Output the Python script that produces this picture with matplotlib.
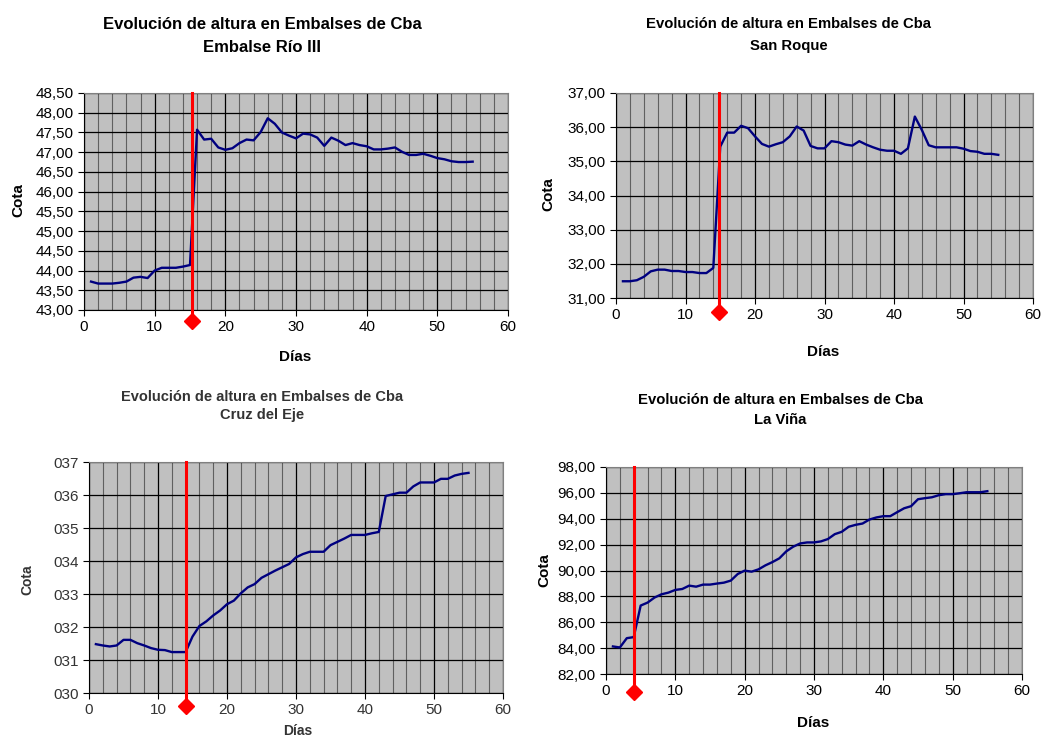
import matplotlib
matplotlib.use("Agg")
import matplotlib.pyplot as plt
from matplotlib.ticker import FuncFormatter, MultipleLocator

plt.rcParams["font.family"] = ["Liberation Sans", "DejaVu Sans"]

W, H = 1043, 739

dias = list(range(1, 56))

rio_iii = [43.72, 43.67, 43.67, 43.67, 43.69, 43.72, 43.82, 43.84, 43.81, 44.00,
           44.07, 44.07, 44.07, 44.10, 44.14, 47.57, 47.32, 47.34, 47.12, 47.06,
           47.10, 47.23, 47.32, 47.30, 47.51, 47.86, 47.72, 47.50, 47.42, 47.35,
           47.47, 47.45, 47.37, 47.16, 47.37, 47.29, 47.18, 47.23, 47.18, 47.15,
           47.07, 47.07, 47.09, 47.12, 47.01, 46.93, 46.93, 46.96, 46.91, 46.85,
           46.82, 46.77, 46.75, 46.75, 46.76]

san_roque = [31.49, 31.49, 31.52, 31.62, 31.78, 31.83, 31.83, 31.79, 31.79, 31.76,
             31.76, 31.73, 31.73, 31.88, 35.43, 35.84, 35.84, 36.04, 35.97, 35.73,
             35.51, 35.43, 35.50, 35.56, 35.73, 36.02, 35.90, 35.45, 35.38, 35.38,
             35.59, 35.56, 35.49, 35.46, 35.59, 35.49, 35.41, 35.34, 35.31, 35.31,
             35.22, 35.38, 36.31, 35.92, 35.47, 35.41, 35.41, 35.41, 35.41, 35.37,
             35.30, 35.28, 35.22, 35.22, 35.19]

cruz_del_eje = [31.48, 31.44, 31.41, 31.44, 31.61, 31.61, 31.51, 31.44, 31.36, 31.31,
                31.30, 31.24, 31.24, 31.24, 31.71, 32.03, 32.17, 32.35, 32.50, 32.69,
                32.80, 33.02, 33.20, 33.30, 33.49, 33.60, 33.71, 33.81, 33.91, 34.11,
                34.21, 34.28, 34.28, 34.28, 34.48, 34.58, 34.68, 34.79, 34.79, 34.79,
                34.84, 34.88, 35.97, 36.02, 36.07, 36.07, 36.26, 36.38, 36.38, 36.38,
                36.49, 36.49, 36.59, 36.64, 36.67]

la_vina = [84.13, 84.05, 84.77, 84.85, 87.29, 87.52, 87.91, 88.16, 88.29, 88.50,
           88.57, 88.83, 88.75, 88.91, 88.91, 88.99, 89.06, 89.22, 89.73, 89.99,
           89.91, 90.09, 90.40, 90.65, 90.94, 91.48, 91.84, 92.09, 92.17, 92.17,
           92.25, 92.43, 92.81, 92.99, 93.38, 93.53, 93.63, 93.94, 94.10, 94.20,
           94.20, 94.51, 94.81, 94.97, 95.51, 95.59, 95.66, 95.82, 95.90, 95.90,
           95.97, 96.05, 96.05, 96.05, 96.13]

nombres = ["Embalse Río III", "San Roque", "Cruz del Eje", "La Viña"]
series = [rio_iii, san_roque, cruz_del_eje, la_vina]
ylims = [(43.0, 48.5), (31.0, 37.0), (30.0, 37.0), (82.0, 98.0)]
ysteps = [0.5, 1.0, 1.0, 2.0]
marca_dia = [15.3, 14.8, 14.0, 4.1]

# pixel boxes: left, right, top, bottom
boxes = [(84, 508, 93, 310), (616, 1033, 93, 298),
         (89, 503, 462, 693), (606, 1022, 467, 674)]
diamond_off = [11, 14, 13, 18]
title_pos = [(262, 29), (789, 28), (262, 401), (780, 404)]
title_size = [12, 10.7, 10.5, 10.7]
title_gap = [23, 22, 18, 20]
cota_pos = [(18, 200), (548, 194), (27, 580), (544, 570)]
dias_pos = [(298, 731), (823, 352), (298, 731), (813, 723)]
dias_pos[0] = (295, 357)

fig = plt.figure(figsize=(W / 100, H / 100), dpi=100)

for i in range(4):
    l, r, t, b = boxes[i]
    ax = fig.add_axes([l / W, 1 - b / H, (r - l) / W, (b - t) / H])
    ax.set_facecolor("#c0c0c0")
    ax.set_xlim(0, 60)
    ax.set_ylim(*ylims[i])
    ax.xaxis.set_major_locator(MultipleLocator(10))
    ax.xaxis.set_minor_locator(MultipleLocator(2))
    ax.yaxis.set_major_locator(MultipleLocator(ysteps[i]))
    ax.grid(which="minor", axis="x", color="#606060", lw=0.8)
    ax.grid(which="major", axis="both", color="black", lw=0.9)
    ax.set_axisbelow(True)
    for s in ax.spines.values():
        s.set_color("#808080")
    ax.spines["left"].set_color("black")
    ax.spines["bottom"].set_color("black")
    ax.tick_params(which="major", length=4, labelsize=11, direction="out")
    ax.tick_params(which="minor", length=0)
    if i == 2:
        ax.yaxis.set_major_formatter(FuncFormatter(lambda v, p: f"{int(round(v)):03d}"))
        ax.tick_params(labelcolor="#333333")
    else:
        ax.yaxis.set_major_formatter(FuncFormatter(lambda v, p: f"{v:.2f}".replace(".", ",")))

    ax.plot(dias, series[i], color="#000080", lw=1.7, zorder=3)

    # red marker for the event day
    trans = ax.get_xaxis_transform()
    yd = -diamond_off[i] / (b - t)
    ax.plot([marca_dia[i], marca_dia[i]], [1.0, yd], color="red", lw=2.2,
            transform=trans, clip_on=False, zorder=4)
    ax.plot([marca_dia[i]], [yd], marker="D", color="red", markersize=8,
            transform=trans, clip_on=False, zorder=5)

    tc = "#333333" if i == 2 else "black"
    tx, ty = title_pos[i]
    fig.text(tx / W, 1 - ty / H, "Evolución de altura en Embalses de Cba",
             ha="center", va="baseline", fontsize=title_size[i], fontweight="bold", color=tc)
    fig.text(tx / W, 1 - (ty + title_gap[i]) / H, nombres[i],
             ha="center", va="baseline", fontsize=title_size[i], fontweight="bold", color=tc)
    cx, cy = cota_pos[i]
    fig.text(cx / W, 1 - cy / H, "Cota", rotation=90, ha="center", va="center",
             fontsize=11 if i != 2 else 10, fontweight="bold", color=tc)
    dx, dy = dias_pos[i]
    fig.text(dx / W, 1 - dy / H, "Días", ha="center", va="center",
             fontsize=11 if i != 2 else 10, fontweight="bold", color=tc)

fig.savefig("out.png", dpi=100)
